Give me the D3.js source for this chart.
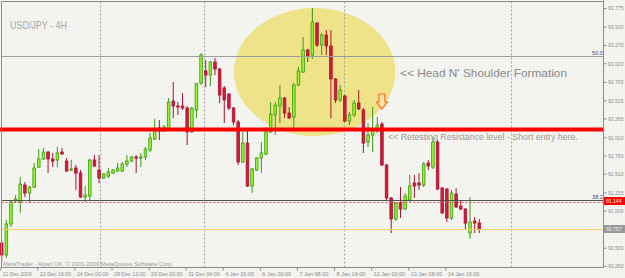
<!DOCTYPE html>
<html>
<head>
<meta charset="utf-8">
<script src="https://cdn.jsdelivr.net/npm/d3@7"></script>
<style>
  html, body { margin: 0; padding: 0; background: #f4f4f1; }
  svg { display: block; font-family: "Liberation Sans", Arial, sans-serif; }
</style>
</head>
<body>
<script>
// USD/JPY 4H bars, 21 Dec 2009 -> 14 Jan 2010
const opens = [90.564,90.400,90.824,91.138,91.124,91.356,91.247,91.329,91.602,91.712,
  91.807,91.712,91.698,91.807,91.684,91.561,91.589,91.520,91.192,91.206,
  91.698,91.561,91.452,91.479,91.520,91.548,91.548,91.643,91.684,91.739,
  91.725,91.739,91.835,91.985,92.135,92.094,92.121,92.504,92.436,92.436,
  92.408,92.081,92.381,92.750,92.914,92.859,93.037,92.941,92.682,92.600,
  92.408,92.217,91.671,91.930,91.343,91.561,91.725,91.780,92.081,92.313,
  92.436,92.545,92.340,92.285,92.723,92.900,93.201,93.133,93.570,93.269,
  93.406,93.256,92.805,92.518,92.572,92.231,92.313,92.477,92.381,91.944,
  92.039,92.094,92.190,91.630,91.179,90.892,91.110,91.028,91.151,91.384,
  91.384,91.356,91.657,91.602,91.944,91.315,91.302,90.906,91.233,91.069,
  91.028,90.701,90.864,90.837]
const highs = [90.605,90.878,91.151,91.220,91.466,91.397,91.343,91.657,91.848,91.862,
  91.821,91.794,91.876,91.862,91.725,91.698,91.630,91.561,91.343,91.712,
  91.766,91.766,91.520,91.589,91.575,91.657,91.671,91.766,91.753,91.766,
  91.794,91.876,92.067,92.258,92.244,92.176,92.545,92.764,92.490,92.613,
  92.436,92.422,92.750,93.160,93.064,93.051,93.092,92.955,92.709,92.613,
  92.422,92.244,92.081,92.135,91.589,91.739,91.944,92.149,92.490,92.490,
  92.723,92.559,92.422,92.750,92.969,93.378,93.215,93.775,93.583,93.433,
  93.474,93.474,92.818,92.723,92.586,92.354,92.518,92.654,92.408,92.203,
  92.422,92.285,92.217,91.643,91.192,91.124,91.329,91.247,91.493,91.493,
  91.520,91.671,91.698,92.012,91.971,91.329,91.315,91.288,91.315,91.151,
  91.042,91.192,90.919,90.892]
const lows = [90.304,90.359,90.783,91.110,90.974,91.192,91.110,91.315,91.589,91.698,
  91.520,91.602,91.602,91.766,91.534,91.548,91.288,91.180,91.124,91.151,
  91.602,91.384,91.438,91.452,91.507,91.534,91.534,91.602,91.671,91.520,
  91.602,91.698,91.807,91.971,91.971,92.081,92.108,92.272,92.313,92.381,
  91.903,92.067,92.272,92.723,92.695,92.709,92.859,92.477,92.203,92.381,
  92.176,91.630,91.657,91.329,91.247,91.548,91.520,91.766,92.067,92.039,
  92.203,92.272,92.258,92.108,92.709,92.887,93.037,93.078,93.242,93.133,
  93.133,92.272,92.477,92.490,92.217,92.176,92.285,92.381,91.794,91.876,
  91.807,92.067,91.616,91.151,90.701,90.864,90.906,91.015,91.124,91.179,
  91.288,91.329,91.561,91.575,91.288,90.960,90.851,90.878,91.042,91.015,
  90.755,90.619,90.701,90.701]
const closes = [90.400,90.824,91.124,91.165,91.370,91.247,91.329,91.589,91.712,91.807,
  91.712,91.684,91.794,91.780,91.548,91.575,91.520,91.192,91.220,91.698,
  91.616,91.452,91.507,91.534,91.561,91.589,91.643,91.684,91.739,91.725,
  91.739,91.848,91.998,92.121,92.094,92.149,92.490,92.436,92.422,92.408,
  92.081,92.408,92.740,93.133,92.859,93.037,92.941,92.586,92.518,92.408,
  92.217,91.671,91.930,91.343,91.575,91.725,91.794,92.081,92.326,92.449,
  92.545,92.340,92.272,92.723,92.914,93.201,93.119,93.583,93.269,93.406,
  93.256,92.805,92.518,92.654,92.231,92.313,92.477,92.395,91.930,92.039,
  92.121,92.176,91.630,91.179,90.892,91.110,91.028,91.206,91.343,91.343,
  91.356,91.643,91.616,91.944,91.302,90.974,90.906,91.247,91.056,91.028,
  90.837,90.851,90.837,90.755]

const timeTicks = [0, 8, 16, 24, 32, 40, 48, 56, 64, 72, 80, 88, 96]
const timeLabels = ["21 Dec 2009", "22 Dec 16:00", "24 Dec 00:00", "28 Dec 12:00", "29 Dec 20:00",
  "31 Dec 04:00", "4 Jan 16:00", "6 Jan 00:00", "7 Jan 08:00", "8 Jan 16:00",
  "12 Jan 00:00", "13 Jan 08:00", "14 Jan 16:00"]
const priceTicks = [93.775, 93.520, 93.270, 93.020, 92.765, 92.515, 92.265, 92.010,
  91.760, 91.510, 91.255, 91.006, 90.500, 90.250]

// objects drawn on the chart
const separators = [21.1, 43.7, 73.9, 109.8]   // week separators (bar index)
const resistance = 92.115
const fib50 = 93.126
const fib382 = 91.155
const bidPrice = 91.144
const hLine = 90.757
const ellipse = { bar: 67.5, price: 92.90, halfBars: 17.4, halfPrice: 0.874 }
const arrowMark = { bar: 82, price: 92.395 }
const notes = [
  { text: "<< Head N' Shoulder Formation", bar: 85.9, price: 92.832, size: 11.8, width: 167, color: "#8a8a8a" },
  { text: "<< Retesting Resistance level - Short entry here.", bar: 83.3, price: 91.971, size: 8.6, width: 190, color: "#9a9a9a" }
]

//------------------------------------------------------------------------------

const W = 625, H = 278
const frame = { left: 1.5, right: 603.5, top: 1.5, bottom: 267.5 }

const svg = d3.select("body").append("svg")
    .attr("width", W)
    .attr("height", H)

const defs = svg.append("defs")
const pat = defs.append("pattern")
    .attr("id", "dots")
    .attr("width", 4).attr("height", 4)
    .attr("patternUnits", "userSpaceOnUse")
pat.append("rect").attr("width", 4).attr("height", 4).attr("fill", "#f4f4f1")
pat.append("rect").attr("x", 1).attr("y", 2).attr("width", 1).attr("height", 1).attr("fill", "#f0dcdc")

svg.append("rect")
    .attr("width", W).attr("height", H)
    .attr("fill", "url(#dots)")

const x = d3.scaleLinear().domain([0, 103]).range([1.7, 479.3])
const y = d3.scaleLinear().domain([90.25, 93.775]).range([266, 8])

// squash text horizontally to a given width
function fit(sel, w) {
    sel.attr("textLength", w).attr("lengthAdjust", "spacingAndGlyphs")
}

//------------------------------------------------------------------------------

svg.append("ellipse")
    .attr("cx", x(ellipse.bar))
    .attr("cy", y(ellipse.price))
    .attr("rx", x(ellipse.bar + ellipse.halfBars) - x(ellipse.bar))
    .attr("ry", y(ellipse.price - ellipse.halfPrice) - y(ellipse.price))
    .attr("fill", "#efe38a")

svg.append("g").selectAll("line")
    .data(separators)
    .join("line")
    .attr("x1", d => Math.round(x(d)) + 0.5)
    .attr("x2", d => Math.round(x(d)) + 0.5)
    .attr("y1", frame.top)
    .attr("y2", frame.bottom)
    .attr("stroke", "#a8a8a8")
    .attr("stroke-dasharray", "2,2")

svg.append("text")
    .attr("x", 10).attr("y", 29)
    .attr("font-size", 10.5)
    .attr("fill", "#a8a8a8")
    .text("USD/JPY - 4H")
    .call(fit, 57)

svg.append("text")
    .attr("x", 3).attr("y", 265.5)
    .attr("font-size", 6)
    .attr("fill", "#9a9a9a")
    .text("MetaTrader - Alpari UK, © 2001-2009 MetaQuotes Software Corp.")
    .call(fit, 170)

//------------------------------------------------------------------------------

const bars = opens.map((o, i) => ({ i: i, o: o, h: highs[i], l: lows[i], c: closes[i] }))
const up = d => d.c >= d.o

const cg = svg.append("g")
cg.selectAll("line")
    .data(bars)
    .join("line")
    .attr("x1", d => x(d.i))
    .attr("x2", d => x(d.i))
    .attr("y1", d => y(d.h))
    .attr("y2", d => y(d.l))
    .attr("stroke", d => up(d) ? "#3c9a12" : "#a8122e")

cg.selectAll("rect")
    .data(bars)
    .join("rect")
    .attr("x", d => x(d.i) - 1.3)
    .attr("width", 2.6)
    .attr("y", d => y(Math.max(d.o, d.c)))
    .attr("height", d => Math.max(0.6, y(Math.min(d.o, d.c)) - y(Math.max(d.o, d.c))))
    .attr("fill", d => up(d) ? "#92f42a" : "#cc1e3c")
    .attr("stroke", d => up(d) ? "#3c9a12" : "#b0102e")
    .attr("stroke-width", 0.8)

//------------------------------------------------------------------------------

svg.append("line")
    .attr("x1", frame.left).attr("x2", frame.right)
    .attr("y1", Math.round(y(fib50)) + 0.5).attr("y2", Math.round(y(fib50)) + 0.5)
    .attr("stroke", "#9c9c9c")

svg.append("line")
    .attr("x1", frame.left).attr("x2", frame.right)
    .attr("y1", Math.round(y(fib382)) + 0.5).attr("y2", Math.round(y(fib382)) + 0.5)
    .attr("stroke", "#505050")

svg.append("line")
    .attr("x1", frame.left).attr("x2", frame.right)
    .attr("y1", Math.round(y(bidPrice)) + 1.5).attr("y2", Math.round(y(bidPrice)) + 1.5)
    .attr("stroke", "#e05050")
    .attr("stroke-dasharray", "2,2")

svg.append("line")
    .attr("x1", frame.left).attr("x2", frame.right)
    .attr("y1", Math.round(y(hLine)) + 0.5).attr("y2", Math.round(y(hLine)) + 0.5)
    .attr("stroke", "#f2d466")

svg.append("line")
    .attr("x1", 0).attr("x2", frame.right)
    .attr("y1", y(resistance)).attr("y2", y(resistance))
    .attr("stroke", "#ff0000")
    .attr("stroke-width", 4)

const fibLabels = [{ t: "50.0", p: fib50 }, { t: "38.2", p: fib382 }]
svg.append("g").selectAll("text")
    .data(fibLabels)
    .join("text")
    .attr("x", frame.right - 11.5)
    .attr("y", d => Math.round(y(d.p)) - 1)
    .attr("font-size", 5.5)
    .attr("fill", "#4a4a5a")
    .text(d => d.t)
    .call(fit, 11)

// orange arrow
svg.append("path")
    .attr("transform", "translate(" + x(arrowMark.bar) + "," + y(arrowMark.price) + ")")
    .attr("d", "M-3,-15 L3,-15 L3,-7 L5.5,-7 L0,0 L-5.5,-7 L-3,-7 Z")
    .attr("fill", "#fde4ae")
    .attr("stroke", "#ff6a10")
    .attr("stroke-width", 1.2)

svg.append("g").selectAll("text")
    .data(notes)
    .join("text")
    .attr("x", d => x(d.bar))
    .attr("y", d => y(d.price))
    .attr("font-size", d => d.size)
    .attr("fill", d => d.color)
    .attr("textLength", d => d.width)
    .attr("lengthAdjust", "spacingAndGlyphs")
    .text(d => d.text)

//------------------------------------------------------------------------------

svg.append("path")
    .attr("d", "M" + frame.right + "," + 0 + "V" + frame.bottom + "H" + frame.left + "V" + frame.top + "H" + frame.right)
    .attr("fill", "none")
    .attr("stroke", "#8c8c8c")

const yAxis = svg.append("g")
    .attr("transform", "translate(" + frame.right + ",0)")
    .call(d3.axisRight(y).tickValues(priceTicks).tickSize(3).tickFormat(d3.format(".3f")))
yAxis.select(".domain").remove()
yAxis.selectAll("line").attr("stroke", "#8c8c8c")
yAxis.selectAll("text")
    .attr("x", 4.5)
    .attr("font-size", 5.8)
    .attr("font-family", "Liberation Sans, Arial, sans-serif")
    .attr("fill", "#8c8c8c")
    .call(fit, 15.5)

const xAxis = svg.append("g")
    .attr("transform", "translate(-1.5," + frame.bottom + ")")
    .call(d3.axisBottom(x).tickValues(timeTicks).tickSize(3).tickFormat((d, i) => timeLabels[i]))
xAxis.select(".domain").remove()
xAxis.selectAll("line").attr("stroke", "#8c8c8c")
xAxis.selectAll("text")
    .attr("text-anchor", "start")
    .attr("x", 2)
    .attr("y", 4.5)
    .attr("font-size", 5.8)
    .attr("font-family", "Liberation Sans, Arial, sans-serif")
    .attr("fill", "#8c8c8c")
    .each(function (d, i) {
        d3.select(this).call(fit, timeLabels[i].length * 2.62)
    })

// price boxes on the axis
const boxes = [{ p: bidPrice, fill: "#ff0000", color: "#ffffff" }, { p: hLine, fill: "#9a9a9a", color: "#eeeeee" }]
const bx = svg.append("g").selectAll("g")
    .data(boxes)
    .join("g")
    .attr("transform", d => "translate(" + (frame.right + 0.5) + "," + Math.round(y(d.p)) + ")")
bx.append("rect")
    .attr("y", -4).attr("width", 21).attr("height", 8)
    .attr("fill", d => d.fill)
bx.append("text")
    .attr("x", 2).attr("y", 2.2)
    .attr("font-size", 5.8)
    .attr("fill", d => d.color)
    .text(d => d3.format(".3f")(d.p))
    .call(fit, 15.5)
</script>
</body>
</html>
